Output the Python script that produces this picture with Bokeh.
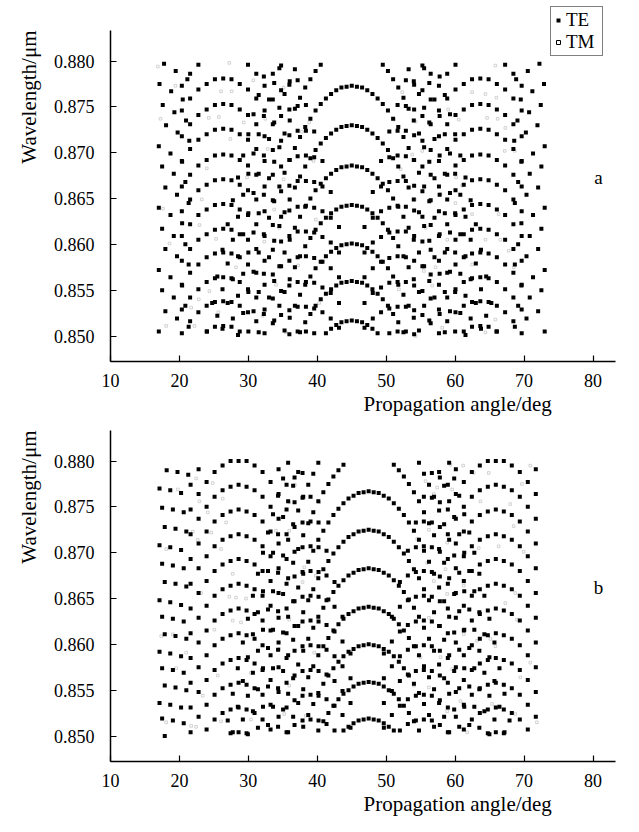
import math
from bokeh.plotting import figure
from bokeh.layouts import column
from bokeh.models import Label, Legend, LegendItem, FixedTicker, NumeralTickFormatter, Range1d, Title
from bokeh.embed import file_html
from bokeh.resources import INLINE

# ======================= PANEL a =======================
# TE, central family: angle grid (deg), first grid step = -28
a_cen_angle = [24.00, 24.75, 25.50, 26.25, 27.00, 27.75, 28.50, 29.25, 30.00, 30.75, 31.50, 32.25, 33.00, 33.75,
               34.50, 35.25, 36.00, 36.75, 37.50, 38.25, 39.00, 39.75, 40.50, 41.25, 42.00, 42.75, 43.50, 44.25,
               45.00, 45.75, 46.50, 47.25, 48.00, 48.75, 49.50, 50.25, 51.00, 51.75, 52.50, 53.25, 54.00, 54.75,
               55.50, 56.25, 57.00, 57.75, 58.50, 59.25, 60.00, 60.75, 61.50, 62.25, 63.00, 63.75, 64.50, 65.25, 66.00]
a_cen_first = -28
# (first step, wavelengths in um)
a_cen_arcs = [
    (-5, [0.8503, 0.8508, 0.8512, 0.8515, 0.8516, 0.8517, 0.8516, 0.8515, 0.8512, 0.8508, 0.8503]),
    (-10, [0.8504, 0.8515, 0.8524, 0.8533, 0.8540, 0.8546, 0.8551, 0.8555, 0.8558, 0.8559, 0.8560,
           0.8559, 0.8558, 0.8555, 0.8551, 0.8546, 0.8540, 0.8533, 0.8524, 0.8515, 0.8504]),
    (-13, [0.8506, 0.8520, 0.8533, 0.8545, 0.8556, 0.8565, 0.8574, 0.8581, 0.8587, 0.8592, 0.8596, 0.8599, 0.8600, 0.8601,
           0.8600, 0.8599, 0.8596, 0.8592, 0.8587, 0.8581, 0.8574, 0.8565, 0.8556, 0.8545, 0.8533, 0.8520, 0.8506]),
    (-15, [0.8517, 0.8533, 0.8548, 0.8562, 0.8575, 0.8587, 0.8598, 0.8607, 0.8616, 0.8623, 0.8629, 0.8634, 0.8638, 0.8641, 0.8642, 0.8643,
           0.8642, 0.8641, 0.8638, 0.8634, 0.8629, 0.8623, 0.8616, 0.8607, 0.8598, 0.8587, 0.8575, 0.8562, 0.8548, 0.8533, 0.8517]),
    (-18, [0.8504, 0.8524, 0.8542, 0.8560, 0.8576, 0.8591, 0.8605, 0.8618, 0.8630, 0.8641, 0.8650, 0.8659, 0.8666, 0.8672, 0.8677, 0.8681, 0.8684, 0.8685, 0.8686,
           0.8685, 0.8684, 0.8681, 0.8677, 0.8672, 0.8666, 0.8659, 0.8650, 0.8641, 0.8630, 0.8618, 0.8605, 0.8591, 0.8576, 0.8560, 0.8542, 0.8524, 0.8504]),
    (-20, [0.8505, 0.8527, 0.8548, 0.8568, 0.8586, 0.8604, 0.8620, 0.8635, 0.8649, 0.8662, 0.8674, 0.8685, 0.8694, 0.8703, 0.8710, 0.8716, 0.8721, 0.8725, 0.8728, 0.8729, 0.8730,
           0.8729, 0.8728, 0.8725, 0.8721, 0.8716, 0.8710, 0.8703, 0.8694, 0.8685, 0.8674, 0.8662, 0.8649, 0.8635, 0.8620, 0.8604, 0.8586, 0.8568, 0.8548, 0.8527, 0.8505]),
    (-22, [0.8501, 0.8525, 0.8548, 0.8570, 0.8591, 0.8611, 0.8629, 0.8647, 0.8663, 0.8678, 0.8692, 0.8705, 0.8717, 0.8728, 0.8737, 0.8746, 0.8753, 0.8759, 0.8764, 0.8768, 0.8771, 0.8772, 0.8773,
           0.8772, 0.8771, 0.8768, 0.8764, 0.8759, 0.8753, 0.8746, 0.8737, 0.8728, 0.8717, 0.8705, 0.8692, 0.8678, 0.8663, 0.8647, 0.8629, 0.8611, 0.8591, 0.8570, 0.8548, 0.8525, 0.8501]),
    (-23, [0.8519, 0.8544, 0.8568, 0.8591, 0.8613, 0.8634, 0.8654, 0.8672, 0.8690, 0.8706, 0.8721, 0.8735, 0.8748, 0.8760, 0.8771, 0.8780, 0.8789, 0.8796]),
    (6, [0.8796, 0.8789, 0.8780, 0.8771, 0.8760, 0.8748, 0.8735, 0.8721, 0.8706, 0.8690, 0.8672, 0.8654, 0.8634, 0.8613, 0.8591, 0.8568, 0.8544, 0.8519]),
    (-25, [0.8508, 0.8536, 0.8562, 0.8587, 0.8611, 0.8634, 0.8656, 0.8677, 0.8697, 0.8715, 0.8733, 0.8749, 0.8764, 0.8778, 0.8791]),
    (11, [0.8791, 0.8778, 0.8764, 0.8749, 0.8733, 0.8715, 0.8697, 0.8677, 0.8656, 0.8634, 0.8611, 0.8587, 0.8562, 0.8536, 0.8508]),
    (-26, [0.8522, 0.8551, 0.8579, 0.8605, 0.8630, 0.8654, 0.8677, 0.8699, 0.8720, 0.8740, 0.8758, 0.8776, 0.8792]),
    (14, [0.8792, 0.8776, 0.8758, 0.8740, 0.8720, 0.8699, 0.8677, 0.8654, 0.8630, 0.8605, 0.8579, 0.8551, 0.8522]),
    (-28, [0.8505, 0.8536, 0.8565, 0.8594, 0.8622, 0.8648, 0.8673, 0.8697, 0.8720, 0.8742, 0.8763, 0.8783]),
    (17, [0.8783, 0.8763, 0.8742, 0.8720, 0.8697, 0.8673, 0.8648, 0.8622, 0.8594, 0.8565, 0.8536, 0.8505]),
]

# TE, left family: first grid step = -5
a_left_angle = [20.35, 21.55, 22.75, 23.95, 25.15, 26.35, 27.55, 28.75, 29.95, 31.15, 32.35, 33.55, 34.75, 35.95,
                37.15, 38.35, 39.55, 40.75, 41.95, 43.15]
a_left_first = -5
a_side_arcs_left = [
    (-2, [0.8505, 0.8510, 0.8511, 0.8510, 0.8505]),
    (-5, [0.8503, 0.8516, 0.8526, 0.8533, 0.8537, 0.8538, 0.8537, 0.8533, 0.8526, 0.8516, 0.8503]),
    (-5, [0.8529, 0.8542, 0.8551, 0.8559, 0.8563, 0.8564, 0.8563, 0.8559, 0.8551, 0.8542, 0.8529, 0.8514]),
    (-5, [0.8556, 0.8569, 0.8578, 0.8586, 0.8590, 0.8591, 0.8590, 0.8586, 0.8578, 0.8569, 0.8556, 0.8541, 0.8523, 0.8502]),
    (-5, [0.8582, 0.8595, 0.8605, 0.8611, 0.8616, 0.8617, 0.8616, 0.8611, 0.8605, 0.8595, 0.8582, 0.8567, 0.8549, 0.8528, 0.8505]),
    (-5, [0.8609, 0.8622, 0.8632, 0.8638, 0.8643, 0.8644, 0.8643, 0.8638, 0.8632, 0.8622, 0.8609, 0.8594, 0.8576, 0.8555, 0.8532, 0.8505]),
    (-5, [0.8636, 0.8649, 0.8659, 0.8665, 0.8670, 0.8671, 0.8670, 0.8665, 0.8659, 0.8649, 0.8636, 0.8621, 0.8603, 0.8582, 0.8559, 0.8532, 0.8503]),
    (-5, [0.8663, 0.8676, 0.8686, 0.8692, 0.8697, 0.8698, 0.8697, 0.8692, 0.8686, 0.8676, 0.8663, 0.8648, 0.8630, 0.8609, 0.8586, 0.8559, 0.8530]),
    (-5, [0.8691, 0.8704, 0.8714, 0.8720, 0.8725, 0.8726, 0.8725, 0.8720, 0.8714, 0.8704, 0.8691, 0.8676, 0.8658, 0.8637, 0.8614, 0.8587, 0.8558, 0.8526]),
    (-5, [0.8718, 0.8731, 0.8741, 0.8747, 0.8752, 0.8753, 0.8752, 0.8747, 0.8741, 0.8731, 0.8718, 0.8703, 0.8685, 0.8664, 0.8641, 0.8614, 0.8585, 0.8553, 0.8519]),
    (-5, [0.8746, 0.8759, 0.8769, 0.8775, 0.8780, 0.8781, 0.8780, 0.8775, 0.8769, 0.8759, 0.8746, 0.8731, 0.8713, 0.8692, 0.8669, 0.8642, 0.8613, 0.8581, 0.8547, 0.8509]),
    (-5, [0.8773, 0.8786, 0.8796]),
    (3, [0.8796, 0.8786, 0.8773, 0.8758, 0.8740, 0.8719, 0.8696, 0.8669, 0.8640, 0.8608, 0.8574, 0.8536]),
    (6, [0.8786, 0.8768, 0.8747, 0.8724, 0.8697, 0.8668, 0.8636, 0.8602, 0.8564]),
    (7, [0.8795, 0.8774, 0.8751, 0.8724, 0.8695, 0.8663, 0.8629, 0.8591]),
    (9, [0.8779, 0.8752, 0.8723, 0.8691, 0.8657, 0.8619]),
]

# TE, right family: first grid step = -5 (angles decrease with step)
a_right_angle = [69.65, 68.45, 67.25, 66.05, 64.85, 63.65, 62.45, 61.25, 60.05, 58.85, 57.65, 56.45, 55.25, 54.05,
                 52.85, 51.65, 50.45, 49.25, 48.05, 46.85]
a_right_first = -5
a_side_arcs_right = [
    (-2, [0.8505, 0.8510, 0.8511, 0.8510, 0.8505]),
    (-5, [0.8503, 0.8516, 0.8526, 0.8533, 0.8537, 0.8538, 0.8537, 0.8533, 0.8526, 0.8516, 0.8503]),
    (-5, [0.8529, 0.8542, 0.8551, 0.8559, 0.8563, 0.8564, 0.8563, 0.8559, 0.8551, 0.8542, 0.8529, 0.8514]),
    (-5, [0.8556, 0.8569, 0.8578, 0.8586, 0.8590, 0.8591, 0.8590, 0.8586, 0.8578, 0.8569, 0.8556, 0.8541, 0.8523, 0.8502]),
    (-5, [0.8582, 0.8595, 0.8605, 0.8611, 0.8616, 0.8617, 0.8616, 0.8611, 0.8605, 0.8595, 0.8582, 0.8567, 0.8549, 0.8528, 0.8505]),
    (-5, [0.8609, 0.8622, 0.8632, 0.8638, 0.8643, 0.8644, 0.8643, 0.8638, 0.8632, 0.8622, 0.8609, 0.8594, 0.8576, 0.8555, 0.8532, 0.8505]),
    (-5, [0.8636, 0.8649, 0.8659, 0.8665, 0.8670, 0.8671, 0.8670, 0.8665, 0.8659, 0.8649, 0.8636, 0.8621, 0.8603, 0.8582, 0.8559, 0.8532, 0.8503]),
    (-5, [0.8663, 0.8676, 0.8686, 0.8692, 0.8697, 0.8698, 0.8697, 0.8692, 0.8686, 0.8676, 0.8663, 0.8648, 0.8630, 0.8609, 0.8586, 0.8559, 0.8530]),
    (-5, [0.8691, 0.8704, 0.8714, 0.8720, 0.8725, 0.8726, 0.8725, 0.8720, 0.8714, 0.8704, 0.8691, 0.8676, 0.8658, 0.8637, 0.8614, 0.8587, 0.8558, 0.8526]),
    (-5, [0.8718, 0.8731, 0.8741, 0.8747, 0.8752, 0.8753, 0.8752, 0.8747, 0.8741, 0.8731, 0.8718, 0.8703, 0.8685, 0.8664, 0.8641, 0.8614, 0.8585, 0.8553, 0.8519]),
    (-5, [0.8746, 0.8759, 0.8769, 0.8775, 0.8780, 0.8781, 0.8780, 0.8775, 0.8769, 0.8759, 0.8746, 0.8731, 0.8713, 0.8692, 0.8669, 0.8642, 0.8613, 0.8581, 0.8547, 0.8509]),
    (-5, [0.8773, 0.8786, 0.8796]),
    (3, [0.8796, 0.8786, 0.8773, 0.8758, 0.8740, 0.8719, 0.8696, 0.8669, 0.8640, 0.8608, 0.8574, 0.8536]),
    (6, [0.8786, 0.8768, 0.8747, 0.8724, 0.8697, 0.8668, 0.8636, 0.8602, 0.8564]),
    (7, [0.8795, 0.8774, 0.8751, 0.8724, 0.8695, 0.8663, 0.8629, 0.8591]),
    (9, [0.8779, 0.8752, 0.8723, 0.8691, 0.8657, 0.8619]),
]

# TE, short rows along the left and right edges
a_edge_angle = [17.77, 19.46, 21.15, 17.11, 18.80, 20.48, 17.58, 19.27, 20.96, 18.06, 19.74, 21.43, 17.01, 18.70, 20.39,
                17.49, 19.18, 20.86, 17.96, 19.65, 21.34, 17.01, 18.70, 20.39, 17.49, 19.18, 20.86, 17.96, 19.65, 21.34,
                17.01, 18.70, 20.39, 17.49, 19.18, 20.86, 17.96, 19.65, 21.34, 17.01]
a_edge_wl = [0.8797, 0.8789, 0.8780, 0.8775, 0.8767, 0.8758, 0.8752, 0.8744, 0.8735, 0.8730, 0.8722, 0.8713,
             0.8707, 0.8699, 0.8690, 0.8685, 0.8677, 0.8668, 0.8662, 0.8654, 0.8645, 0.8640, 0.8632, 0.8623,
             0.8617, 0.8609, 0.8600, 0.8595, 0.8587, 0.8578, 0.8572, 0.8564, 0.8555, 0.8550, 0.8542, 0.8533,
             0.8527, 0.8519, 0.8510, 0.8505]
a_edge_r_angle = [72.23, 70.54, 68.85, 72.89, 71.20, 69.52, 72.42, 70.73, 69.04, 71.94, 70.26, 68.57, 72.99, 71.30, 69.61,
                  72.51, 70.82, 69.14, 72.04, 70.35, 68.66, 72.99, 71.30, 69.61, 72.51, 70.82, 69.14, 72.04, 70.35, 68.66,
                  72.99, 71.30, 69.61, 72.51, 70.82, 69.14, 72.04, 70.35, 68.66, 72.99]
a_edge_r_wl = [0.8797, 0.8789, 0.8780, 0.8775, 0.8767, 0.8758, 0.8752, 0.8744, 0.8735, 0.8730, 0.8722, 0.8713,
               0.8707, 0.8699, 0.8690, 0.8685, 0.8677, 0.8668, 0.8662, 0.8654, 0.8645, 0.8640, 0.8632, 0.8623,
               0.8617, 0.8609, 0.8600, 0.8595, 0.8587, 0.8578, 0.8572, 0.8564, 0.8555, 0.8550, 0.8542, 0.8533,
               0.8527, 0.8519, 0.8510, 0.8505]

# TM (faint open squares)
a_tm_angle = [16.87, 19.43, 27.24, 26.04, 27.58, 24.26, 25.71, 17.26, 29.32, 27.39, 23.96, 23.24, 29.80, 35.11, 32.46,
              32.80, 35.11, 35.93, 30.72, 37.76, 39.45, 38.83,
              17.60, 22.90, 25.32, 18.56, 28.21, 24.35, 22.81, 21.70, 25.65, 18.08, 22.18, 34.48, 33.75, 32.31, 37.23,
              34.00, 32.07, 35.44, 39.78, 40.27,
              52.33, 51.12, 54.26, 55.22, 53.77, 52.09, 58.99, 60.53, 62.46, 64.39, 65.98, 64.63, 66.17, 67.28, 67.19,
              68.64, 65.83, 60.14, 61.02,
              57.88, 54.16, 60.05, 62.46, 66.32, 55.71, 58.85, 64.39, 66.56, 67.77, 55.46, 57.16, 62.46, 68.50, 56.67,
              51.85, 58.12, 64.39, 65.83, 54.26]
a_tm_wl = [0.8794, 0.8773, 0.8798, 0.8767, 0.8767, 0.8738, 0.8739, 0.8737, 0.8733, 0.8715, 0.8683, 0.8649, 0.8673,
           0.8771, 0.8737, 0.8704, 0.8671, 0.8649, 0.8779, 0.8723, 0.8691, 0.8733,
           0.8639, 0.8621, 0.8606, 0.8601, 0.8575, 0.8549, 0.8540, 0.8531, 0.8526, 0.8511, 0.8511, 0.8618, 0.8638,
           0.8603, 0.8577, 0.8556, 0.8522, 0.8504, 0.8627, 0.8536,
           0.8766, 0.8736, 0.8734, 0.8702, 0.8698, 0.8682, 0.8747, 0.8736, 0.8766, 0.8764, 0.8760, 0.8738, 0.8737,
           0.8727, 0.8702, 0.8702, 0.8795, 0.8673, 0.8664,
           0.8655, 0.8649, 0.8645, 0.8633, 0.8633, 0.8618, 0.8605, 0.8605, 0.8605, 0.8593, 0.8571, 0.8575, 0.8578,
           0.8575, 0.8555, 0.8551, 0.8509, 0.8504, 0.8518, 0.8500]

# ======================= PANEL b =======================
b_cen_angle = [27.01, 27.74, 28.47, 29.20, 29.93, 30.66, 31.39, 32.12, 32.85, 33.58, 34.31, 35.04, 35.77, 36.50,
               37.23, 37.96, 38.69, 39.42, 40.15, 40.88, 41.61, 42.34, 43.07, 43.80, 44.53, 45.26, 45.99, 46.72,
               47.45, 48.18, 48.91, 49.64, 50.37, 51.10, 51.83, 52.56, 53.29, 54.02, 54.75, 55.48, 56.21, 56.94,
               57.67, 58.40, 59.13, 59.86, 60.59, 61.32, 62.05, 62.78, 63.51, 64.24, 64.97, 65.70, 66.43, 67.16, 67.89]
b_cen_first = -28
b_cen_arcs = [
    (-5, [0.8506, 0.8510, 0.8514, 0.8517, 0.8518, 0.8519, 0.8518, 0.8517, 0.8514, 0.8510, 0.8506]),
    (-10, [0.8506, 0.8516, 0.8525, 0.8533, 0.8540, 0.8546, 0.8550, 0.8554, 0.8557, 0.8558, 0.8559,
           0.8558, 0.8557, 0.8554, 0.8550, 0.8546, 0.8540, 0.8533, 0.8525, 0.8516, 0.8506]),
    (-13, [0.8510, 0.8523, 0.8535, 0.8547, 0.8557, 0.8566, 0.8574, 0.8581, 0.8587, 0.8592, 0.8595, 0.8598, 0.8599, 0.8600,
           0.8599, 0.8598, 0.8595, 0.8592, 0.8587, 0.8581, 0.8574, 0.8566, 0.8557, 0.8547, 0.8535, 0.8523, 0.8510]),
    (-16, [0.8504, 0.8521, 0.8536, 0.8551, 0.8564, 0.8576, 0.8588, 0.8598, 0.8607, 0.8615, 0.8622, 0.8628, 0.8633, 0.8636, 0.8639, 0.8640, 0.8641,
           0.8640, 0.8639, 0.8636, 0.8633, 0.8628, 0.8622, 0.8615, 0.8607, 0.8598, 0.8588, 0.8576, 0.8564, 0.8551, 0.8536, 0.8521, 0.8504]),
    (-18, [0.8510, 0.8529, 0.8546, 0.8563, 0.8578, 0.8593, 0.8606, 0.8618, 0.8630, 0.8640, 0.8649, 0.8657, 0.8664, 0.8670, 0.8675, 0.8678, 0.8681, 0.8682, 0.8683,
           0.8682, 0.8681, 0.8678, 0.8675, 0.8670, 0.8664, 0.8657, 0.8649, 0.8640, 0.8630, 0.8618, 0.8606, 0.8593, 0.8578, 0.8563, 0.8546, 0.8529, 0.8510]),
    (-20, [0.8512, 0.8532, 0.8552, 0.8571, 0.8588, 0.8605, 0.8620, 0.8635, 0.8648, 0.8660, 0.8672, 0.8682, 0.8691, 0.8699, 0.8706, 0.8712, 0.8717, 0.8720, 0.8723, 0.8724, 0.8725,
           0.8724, 0.8723, 0.8720, 0.8717, 0.8712, 0.8706, 0.8699, 0.8691, 0.8682, 0.8672, 0.8660, 0.8648, 0.8635, 0.8620, 0.8605, 0.8588, 0.8571, 0.8552, 0.8532, 0.8512]),
    (-22, [0.8509, 0.8532, 0.8554, 0.8574, 0.8594, 0.8613, 0.8630, 0.8647, 0.8662, 0.8677, 0.8690, 0.8702, 0.8714, 0.8724, 0.8733, 0.8741, 0.8748, 0.8754, 0.8759, 0.8762, 0.8765, 0.8766, 0.8767,
           0.8766, 0.8765, 0.8762, 0.8759, 0.8754, 0.8748, 0.8741, 0.8733, 0.8724, 0.8714, 0.8702, 0.8690, 0.8677, 0.8662, 0.8647, 0.8630, 0.8613, 0.8594, 0.8574, 0.8554, 0.8532, 0.8509]),
    (-24, [0.8502, 0.8527, 0.8551, 0.8574, 0.8596, 0.8616, 0.8636, 0.8655, 0.8672, 0.8689, 0.8704, 0.8719, 0.8732, 0.8744, 0.8756, 0.8766, 0.8775, 0.8783, 0.8790, 0.8796]),
    (5, [0.8796, 0.8790, 0.8783, 0.8775, 0.8766, 0.8756, 0.8744, 0.8732, 0.8719, 0.8704, 0.8689, 0.8672, 0.8655, 0.8636, 0.8616, 0.8596, 0.8574, 0.8551, 0.8527, 0.8502]),
    (-25, [0.8518, 0.8544, 0.8569, 0.8593, 0.8616, 0.8638, 0.8658, 0.8678, 0.8697, 0.8714, 0.8731, 0.8746, 0.8761, 0.8774, 0.8786, 0.8798]),
    (10, [0.8798, 0.8786, 0.8774, 0.8761, 0.8746, 0.8731, 0.8714, 0.8697, 0.8678, 0.8658, 0.8638, 0.8616, 0.8593, 0.8569, 0.8544, 0.8518]),
    (-27, [0.8504, 0.8532, 0.8560, 0.8586, 0.8611, 0.8635, 0.8658, 0.8680, 0.8700, 0.8720, 0.8739, 0.8756, 0.8773, 0.8788]),
    (14, [0.8788, 0.8773, 0.8756, 0.8739, 0.8720, 0.8700, 0.8680, 0.8658, 0.8635, 0.8611, 0.8586, 0.8560, 0.8532, 0.8504]),
    (-28, [0.8517, 0.8546, 0.8574, 0.8602, 0.8628, 0.8653, 0.8677, 0.8700, 0.8722, 0.8742, 0.8762, 0.8781, 0.8798]),
    (16, [0.8798, 0.8781, 0.8762, 0.8742, 0.8722, 0.8700, 0.8677, 0.8653, 0.8628, 0.8602, 0.8574, 0.8546, 0.8517]),
]

b_left_angle = [21.62, 22.78, 23.94, 25.10, 26.26, 27.42, 28.58, 29.74, 30.90, 32.06, 33.22, 34.38, 35.54, 36.70,
                37.86, 39.02, 40.18, 41.34, 42.50, 43.66, 44.82]
b_left_first = -6
b_right_angle = [71.70, 70.54, 69.38, 68.22, 67.06, 65.90, 64.74, 63.58, 62.42, 61.26, 60.10, 58.94, 57.78, 56.62,
                 55.46, 54.30, 53.14, 51.98, 50.82, 49.66]
b_right_first = -5
b_side_arcs_left = [
    (-1, [0.8503, 0.8504, 0.8503]),
    (-4, [0.8507, 0.8518, 0.8525, 0.8529, 0.8531, 0.8529, 0.8525, 0.8518, 0.8507]),
    (-6, [0.8504, 0.8521, 0.8534, 0.8545, 0.8552, 0.8556, 0.8558, 0.8556, 0.8552, 0.8545, 0.8534, 0.8521, 0.8504]),
    (-6, [0.8531, 0.8548, 0.8561, 0.8572, 0.8579, 0.8583, 0.8585, 0.8583, 0.8579, 0.8572, 0.8561, 0.8548, 0.8531, 0.8512]),
    (-6, [0.8558, 0.8575, 0.8588, 0.8599, 0.8606, 0.8610, 0.8612, 0.8610, 0.8606, 0.8599, 0.8588, 0.8575, 0.8558, 0.8539, 0.8517]),
    (-6, [0.8585, 0.8602, 0.8615, 0.8626, 0.8633, 0.8637, 0.8639, 0.8637, 0.8633, 0.8626, 0.8615, 0.8602, 0.8585, 0.8566, 0.8544, 0.8518]),
    (-6, [0.8612, 0.8629, 0.8642, 0.8653, 0.8660, 0.8664, 0.8666, 0.8664, 0.8660, 0.8653, 0.8642, 0.8629, 0.8612, 0.8593, 0.8571, 0.8545, 0.8517]),
    (-6, [0.8639, 0.8656, 0.8669, 0.8680, 0.8687, 0.8691, 0.8693, 0.8691, 0.8687, 0.8680, 0.8669, 0.8656, 0.8639, 0.8620, 0.8598, 0.8572, 0.8544, 0.8513]),
    (-6, [0.8666, 0.8683, 0.8696, 0.8707, 0.8714, 0.8718, 0.8720, 0.8718, 0.8714, 0.8707, 0.8696, 0.8683, 0.8666, 0.8647, 0.8625, 0.8599, 0.8571, 0.8540, 0.8506]),
    (-6, [0.8693, 0.8710, 0.8723, 0.8734, 0.8741, 0.8745, 0.8747, 0.8745, 0.8741, 0.8734, 0.8723, 0.8710, 0.8693, 0.8674, 0.8652, 0.8626, 0.8598, 0.8567, 0.8533]),
    (-6, [0.8720, 0.8737, 0.8750, 0.8761, 0.8768, 0.8772, 0.8774, 0.8772, 0.8768, 0.8761, 0.8750, 0.8737, 0.8720, 0.8701, 0.8679, 0.8653, 0.8625, 0.8594, 0.8560, 0.8523]),
    (-6, [0.8747, 0.8764, 0.8777, 0.8788, 0.8795, 0.8800, 0.8800, 0.8800, 0.8795, 0.8788, 0.8777, 0.8764, 0.8747, 0.8728, 0.8706, 0.8680, 0.8652, 0.8621, 0.8587, 0.8549, 0.8509]),
    (-6, [0.8774, 0.8791]),
    (5, [0.8791, 0.8774, 0.8755, 0.8733, 0.8707, 0.8679, 0.8648, 0.8614, 0.8576, 0.8536]),
    (7, [0.8782, 0.8760, 0.8734, 0.8706, 0.8675, 0.8641, 0.8603, 0.8563]),
    (8, [0.8787, 0.8761, 0.8733, 0.8702, 0.8668, 0.8630, 0.8590]),
]
b_side_arcs_right = [
    (-1, [0.8503, 0.8504, 0.8503]),
    (-4, [0.8507, 0.8518, 0.8525, 0.8529, 0.8531, 0.8529, 0.8525, 0.8518, 0.8507]),
    (-5, [0.8521, 0.8534, 0.8545, 0.8552, 0.8556, 0.8558, 0.8556, 0.8552, 0.8545, 0.8534, 0.8521, 0.8504]),
    (-5, [0.8548, 0.8561, 0.8572, 0.8579, 0.8583, 0.8585, 0.8583, 0.8579, 0.8572, 0.8561, 0.8548, 0.8531, 0.8512]),
    (-5, [0.8575, 0.8588, 0.8599, 0.8606, 0.8610, 0.8612, 0.8610, 0.8606, 0.8599, 0.8588, 0.8575, 0.8558, 0.8539, 0.8517]),
    (-5, [0.8602, 0.8615, 0.8626, 0.8633, 0.8637, 0.8639, 0.8637, 0.8633, 0.8626, 0.8615, 0.8602, 0.8585, 0.8566, 0.8544, 0.8518]),
    (-5, [0.8629, 0.8642, 0.8653, 0.8660, 0.8664, 0.8666, 0.8664, 0.8660, 0.8653, 0.8642, 0.8629, 0.8612, 0.8593, 0.8571, 0.8545, 0.8517]),
    (-5, [0.8656, 0.8669, 0.8680, 0.8687, 0.8691, 0.8693, 0.8691, 0.8687, 0.8680, 0.8669, 0.8656, 0.8639, 0.8620, 0.8598, 0.8572, 0.8544, 0.8513]),
    (-5, [0.8683, 0.8696, 0.8707, 0.8714, 0.8718, 0.8720, 0.8718, 0.8714, 0.8707, 0.8696, 0.8683, 0.8666, 0.8647, 0.8625, 0.8599, 0.8571, 0.8540, 0.8506]),
    (-5, [0.8710, 0.8723, 0.8734, 0.8741, 0.8745, 0.8747, 0.8745, 0.8741, 0.8734, 0.8723, 0.8710, 0.8693, 0.8674, 0.8652, 0.8626, 0.8598, 0.8567, 0.8533]),
    (-5, [0.8737, 0.8750, 0.8761, 0.8768, 0.8772, 0.8774, 0.8772, 0.8768, 0.8761, 0.8750, 0.8737, 0.8720, 0.8701, 0.8679, 0.8653, 0.8625, 0.8594, 0.8560, 0.8523]),
    (-5, [0.8764, 0.8777, 0.8788, 0.8795, 0.8800, 0.8800, 0.8800, 0.8795, 0.8788, 0.8777, 0.8764, 0.8747, 0.8728, 0.8706, 0.8680, 0.8652, 0.8621, 0.8587, 0.8549, 0.8509]),
    (-5, [0.8791]),
    (5, [0.8791, 0.8774, 0.8755, 0.8733, 0.8707, 0.8679, 0.8648, 0.8614, 0.8576, 0.8536]),
    (7, [0.8782, 0.8760, 0.8734, 0.8706, 0.8675, 0.8641, 0.8603, 0.8563]),
    (8, [0.8787, 0.8761, 0.8733, 0.8702, 0.8668, 0.8630, 0.8590]),
]

b_edge_angle = [18.15, 19.72, 21.28, 17.11, 18.67, 20.24, 17.49, 19.05, 20.62, 17.87, 19.43, 21.00,
                17.11, 18.67, 20.24, 17.49, 19.05, 20.62, 17.87, 19.43, 21.00,
                17.11, 18.67, 20.24, 17.49, 19.05, 20.62, 17.87, 19.43, 21.00,
                17.11, 18.67, 20.24, 17.49, 19.05, 20.62, 17.87, 19.43, 21.00,
                17.11, 18.67, 20.24, 17.49, 19.05, 20.62, 17.87]
b_edge_wl = [0.8790, 0.8788, 0.8785, 0.8770, 0.8768, 0.8765, 0.8749, 0.8747, 0.8744, 0.8728, 0.8726, 0.8723,
             0.8708, 0.8706, 0.8703, 0.8688, 0.8686, 0.8683, 0.8668, 0.8666, 0.8663,
             0.8648, 0.8646, 0.8643, 0.8630, 0.8628, 0.8625, 0.8611, 0.8609, 0.8606,
             0.8592, 0.8590, 0.8587, 0.8574, 0.8572, 0.8569, 0.8555, 0.8553, 0.8550,
             0.8536, 0.8534, 0.8531, 0.8519, 0.8517, 0.8514, 0.8500]

b_tm_angle = [22.42, 24.83, 22.90, 26.28, 24.11, 26.77, 24.60, 21.94, 22.66, 18.08, 26.04, 27.73, 34.00, 35.93, 36.75,
              35.93, 38.10, 39.78, 40.27, 19.77,
              23.15, 27.24, 28.21, 29.66, 27.73, 28.93, 25.07, 17.36, 19.04, 19.53, 20.98, 30.38, 25.56, 23.38, 18.08,
              21.70, 22.42, 26.04, 30.38, 34.48, 35.93, 39.55, 37.86, 35.93, 35.20, 38.34,
              55.71, 57.40, 59.32, 61.16, 59.57, 63.66, 62.70, 64.87, 56.91, 56.19, 58.84, 63.42, 66.32, 68.00, 69.69,
              70.90, 68.49, 69.94, 54.49, 55.95, 58.60, 61.25,
              56.91, 58.84, 61.25, 68.73, 67.28, 68.97, 56.19, 61.25, 63.18, 65.11, 65.83, 59.57, 57.88, 54.98, 54.01,
              56.19, 60.77, 58.84, 65.35, 67.04, 69.45, 70.90, 68.73, 71.86, 61.74]
b_tm_wl = [0.8781, 0.8776, 0.8756, 0.8759, 0.8744, 0.8733, 0.8722, 0.8723, 0.8714, 0.8704, 0.8704, 0.8677, 0.8724,
           0.8724, 0.8774, 0.8755, 0.8684, 0.8675, 0.8755, 0.8769,
           0.8656, 0.8652, 0.8651, 0.8650, 0.8626, 0.8624, 0.8616, 0.8609, 0.8611, 0.8574, 0.8591, 0.8569, 0.8566,
           0.8544, 0.8515, 0.8511, 0.8510, 0.8516, 0.8518, 0.8595, 0.8627, 0.8591, 0.8668, 0.8555, 0.8524, 0.8522,
           0.8778, 0.8771, 0.8796, 0.8795, 0.8769, 0.8756, 0.8787, 0.8787, 0.8764, 0.8725, 0.8711, 0.8705, 0.8707,
           0.8753, 0.8775, 0.8795, 0.8729, 0.8701, 0.8715, 0.8689, 0.8682, 0.8667,
           0.8669, 0.8655, 0.8664, 0.8656, 0.8645, 0.8627, 0.8629, 0.8611, 0.8604, 0.8606, 0.8598, 0.8573, 0.8586,
           0.8586, 0.8555, 0.8553, 0.8538, 0.8527, 0.8535, 0.8555, 0.8564, 0.8580, 0.8524, 0.8515, 0.8504]

x_ticks = [10, 20, 30, 40, 50, 60, 70, 80]
y_ticks = [0.850, 0.855, 0.860, 0.865, 0.870, 0.875, 0.880]
x_axis_span = (10, 83.2)
y_axis_span = (0.84722, 0.88333)

SERIF = "Liberation Serif"
PX_PER_DEG = 6.893
PX_PER_UM = 9166.0
FRAME_W = 513


def expand(angles, first, arcs):
    xs, ys = [], []
    for start, wls in arcs:
        for k, w in enumerate(wls):
            i = start - first + k
            if 0 <= i < len(angles):
                xs.append(angles[i])
                ys.append(w)
    return xs, ys


def collect(parts):
    xs, ys = [], []
    for x, y in parts:
        n = min(len(x), len(y))
        xs += list(x)[:n]
        ys += list(y)[:n]
    return xs, ys


a_te_x, a_te_y = collect([
    expand(a_cen_angle, a_cen_first, a_cen_arcs),
    expand(a_left_angle, a_left_first, a_side_arcs_left),
    expand(a_right_angle, a_right_first, a_side_arcs_right),
    (a_edge_angle, a_edge_wl),
    (a_edge_r_angle, a_edge_r_wl),
])
b_te_x, b_te_y = collect([
    expand(b_cen_angle, b_cen_first, b_cen_arcs),
    expand(b_left_angle, b_left_first, b_side_arcs_left),
    expand(b_right_angle, b_right_first, b_side_arcs_right),
    (b_edge_angle, b_edge_wl),
])


def panel(te_x, te_y, tm_x, tm_y, letter, letter_y, frame_h, ytitle_offset, with_legend):
    y_top = y_axis_span[0] + frame_h / PX_PER_UM
    p = figure(frame_width=FRAME_W, frame_height=frame_h,
               x_range=Range1d(10, 10 + FRAME_W / PX_PER_DEG), y_range=Range1d(y_axis_span[0], y_top),
               output_backend="svg", toolbar_location=None,
               min_border_left=110, min_border_right=0, min_border_top=0, min_border_bottom=62)
    p.outline_line_color = None
    p.xgrid.visible = False
    p.ygrid.visible = False
    p.background_fill_color = "white"
    p.border_fill_color = "white"

    p.scatter(tm_x, tm_y, marker="square", size=2.6, fill_color="white",
              line_color="#c8c8c8", line_width=0.8)
    te = p.scatter(te_x, te_y, marker="square", size=4, fill_color="black", line_color=None)

    for ax in (p.xaxis[0], p.yaxis[0]):
        ax.axis_line_color = "black"
        ax.axis_line_width = 1.5
        ax.major_tick_in = 6
        ax.major_tick_out = 0
        ax.major_tick_line_color = "black"
        ax.major_tick_line_width = 1.2
        ax.minor_tick_line_color = None
        ax.major_label_text_font = SERIF
        ax.major_label_text_font_size = "18px"
        ax.major_label_text_color = "black"
    p.xaxis.ticker = FixedTicker(ticks=x_ticks)
    p.yaxis.ticker = FixedTicker(ticks=y_ticks)
    p.xaxis.bounds = x_axis_span
    p.yaxis.bounds = y_axis_span
    p.yaxis.formatter = NumeralTickFormatter(format="0.000")
    p.yaxis.major_label_standoff = 16
    p.xaxis.major_label_standoff = 12

    p.add_layout(Title(text="Propagation angle/deg", align="left", offset=253, standoff=0,
                       text_font=SERIF, text_font_size="21px", text_font_style="normal",
                       text_color="black"), "below")
    p.add_layout(Title(text="Wavelength/\u03bcm", align="right", offset=ytitle_offset, standoff=20,
                       text_font=SERIF, text_font_size="21px", text_font_style="normal",
                       text_color="black"), "left")
    p.add_layout(Label(x=488, y=letter_y, x_units="screen", y_units="screen", text=letter,
                       text_align="center", text_baseline="middle",
                       text_font=SERIF, text_font_size="19px", text_color="black"))

    if with_legend:
        nan = float("nan")
        tm_key = p.scatter([nan], [nan], marker="square", size=4, fill_color="white",
                           line_color="black", line_width=1)
        lg = Legend(items=[LegendItem(label="TE", renderers=[te]), LegendItem(label="TM", renderers=[tm_key])],
                    location=(440, 305), orientation="vertical",
                    border_line_color="black", border_line_width=1.2,
                    background_fill_color="white", background_fill_alpha=1.0,
                    padding=2, spacing=0, margin=0, label_standoff=3,
                    glyph_width=10, glyph_height=10, label_height=20, label_width=34,
                    label_text_font=SERIF, label_text_font_size="19px", label_text_color="black")
        p.add_layout(lg)
    return p


pa = panel(a_te_x, a_te_y, a_tm_angle, a_tm_wl, "a", 184, 361, 30, True)
pb = panel(b_te_x, b_te_y, b_tm_angle, b_tm_wl, "b", 174, 338, 7, False)

layout = column(pa, pb, spacing=0)
open("out.html", "w").write(file_html(layout, INLINE, title="Wavelength vs propagation angle"))
